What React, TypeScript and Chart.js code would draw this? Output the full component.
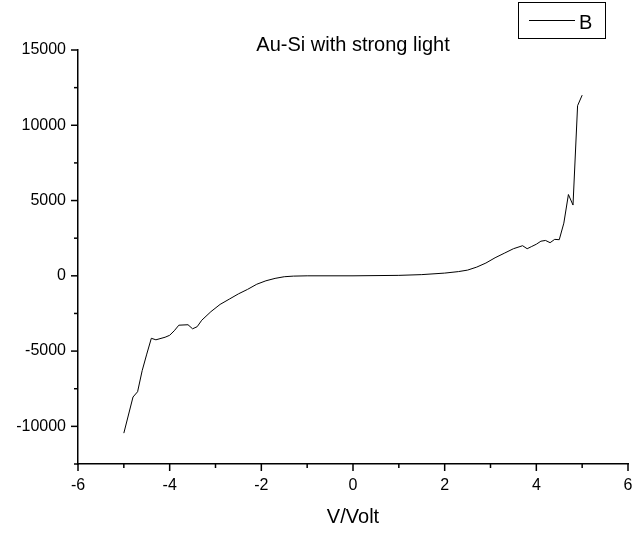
import React, { useEffect, useRef } from 'react';
import { Chart, registerables } from 'chart.js';

Chart.register(...registerables);

const chartTitle = 'Au-Si with strong light';
const seriesLabel = 'B';
const xAxisTitle = 'V/Volt';

const voltage = [
  -5.0, -4.8, -4.7, -4.6, -4.5, -4.4, -4.3, -4.1, -4.0, -3.9, -3.8, -3.6, -3.5, -3.4, -3.3, -3.1,
  -2.9, -2.7, -2.5, -2.3, -2.1, -1.9, -1.7, -1.5, -1.3, -1.0, 0.0, 1.0, 1.5, 2.0, 2.3, 2.5, 2.7,
  2.9, 3.1, 3.3, 3.5, 3.7, 3.8, 3.9, 4.0, 4.1, 4.2, 4.3, 4.4, 4.5, 4.6, 4.7, 4.8, 4.9, 5.0,
];
const current = [
  -10450, -8050, -7700, -6300, -5200, -4150, -4250, -4080, -3950, -3650, -3280, -3250, -3520, -3380, -2950, -2380,
  -1900, -1550, -1200, -900, -560, -330, -170, -60, -20, 0, 0, 30, 80, 180, 280, 380, 580,
  850, 1200, 1500, 1800, 2000, 1800, 1950, 2100, 2300, 2350, 2200, 2420, 2400, 3500, 5400, 4700, 11300, 12000,
];

const xMin = -6;
const xMax = 6;
const xStep = 1;
const xLabelEvery = 2;
const yMin = -12500;
const yMax = 15000;
const yStep = 2500;
const yLabelEvery = 5000;

const FONT = '"Liberation Sans", Arial, Helvetica, sans-serif';

const isMultiple = (v: number, m: number) => Math.abs(v / m - Math.round(v / m)) < 1e-9;

const decorPlugin = {
  id: 'decor',
  afterDraw(chart: any) {
    const ctx = chart.ctx as CanvasRenderingContext2D;
    const xs = chart.scales.x;
    const ys = chart.scales.y;
    const { left, right, bottom } = chart.chartArea;
    ctx.save();
    ctx.strokeStyle = '#000';
    ctx.lineWidth = 1.5;
    xs.ticks.forEach((t: any) => {
      const px = xs.getPixelForValue(t.value);
      const len = isMultiple(t.value, xLabelEvery) ? 7 : 4;
      ctx.beginPath();
      ctx.moveTo(px, bottom);
      ctx.lineTo(px, bottom + len);
      ctx.stroke();
    });
    ys.ticks.forEach((t: any) => {
      const py = ys.getPixelForValue(t.value);
      const len = isMultiple(t.value, yLabelEvery) ? 7 : 4;
      ctx.beginPath();
      ctx.moveTo(left, py);
      ctx.lineTo(left - len, py);
      ctx.stroke();
    });
    // title
    ctx.fillStyle = '#000';
    ctx.font = `20px ${FONT}`;
    ctx.textAlign = 'center';
    ctx.textBaseline = 'alphabetic';
    ctx.fillText(chartTitle, (left + right) / 2, 51);
    // legend
    ctx.lineWidth = 1;
    ctx.strokeRect(518.5, 2.5, 87, 36);
    ctx.beginPath();
    ctx.moveTo(529, 20.5);
    ctx.lineTo(575, 20.5);
    ctx.stroke();
    ctx.textAlign = 'left';
    ctx.fillText(seriesLabel, 579, 28.5);
    ctx.restore();
  },
};

export default function App() {
  const ref = useRef<HTMLCanvasElement | null>(null);
  useEffect(() => {
    if (!ref.current) return;
    const points = voltage.map((v, i) => ({ x: v, y: current[i] }));
    const chart = new Chart(ref.current, {
      type: 'line',
      data: {
        datasets: [
          {
            label: seriesLabel,
            data: points,
            borderColor: '#000',
            borderWidth: 1,
            pointRadius: 0,
            tension: 0,
            fill: false,
          },
        ],
      },
      options: {
        animation: false,
        responsive: false,
        maintainAspectRatio: false,
        layout: { padding: { top: 50, right: 8, left: 0, bottom: 0 } },
        plugins: {
          legend: { display: false },
          title: { display: false },
          tooltip: { enabled: false },
        },
        scales: {
          x: {
            type: 'linear',
            min: xMin,
            max: xMax,
            grid: { display: false, drawTicks: false },
            border: { display: true, color: '#000', width: 1.5 },
            ticks: {
              stepSize: xStep,
              color: '#000',
              padding: 12,
              maxRotation: 0,
              autoSkip: false,
              font: { family: FONT, size: 16 },
              callback: (v: any) => (isMultiple(Number(v), xLabelEvery) ? String(v) : ''),
            },
            title: {
              display: true,
              text: xAxisTitle,
              color: '#000',
              font: { family: FONT, size: 20 },
              padding: { top: 0, bottom: 10 },
            },
            afterFit: (s: any) => {
              s.height = 75;
              s.paddingLeft = 0;
              s.paddingRight = 0;
            },
          },
          y: {
            type: 'linear',
            min: yMin,
            max: yMax,
            grid: { display: false, drawTicks: false },
            border: { display: true, color: '#000', width: 1.5 },
            ticks: {
              stepSize: yStep,
              color: '#000',
              padding: 12,
              autoSkip: false,
              font: { family: FONT, size: 16 },
              callback: (v: any) => (isMultiple(Number(v), yLabelEvery) ? String(v) : ''),
            },
            afterFit: (s: any) => {
              s.width = 78;
              s.paddingTop = 0;
              s.paddingBottom = 0;
            },
          },
        },
      },
      plugins: [decorPlugin],
    });
    return () => chart.destroy();
  }, []);
  return (
    <div style={{ position: 'fixed', left: 0, top: 0, width: 636, height: 539, background: '#fff' }}>
      <canvas ref={ref} width={636} height={539} style={{ width: 636, height: 539, display: 'block' }} />
    </div>
  );
}
